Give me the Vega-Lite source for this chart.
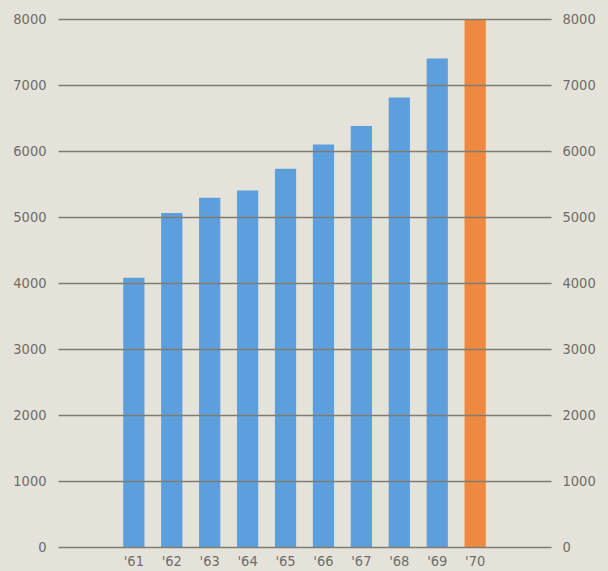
{
  "$schema": "https://vega.github.io/schema/vega-lite/v6.json",
  "autosize": "none",
  "width": 493,
  "height": 528,
  "padding": {"left": 58, "top": 19, "right": 57, "bottom": 24},
  "background": "#e5e3d9",
  "config": {
    "view": {"stroke": null},
    "axis": {
      "labelFont": "DejaVu Sans Condensed, sans-serif",
      "labelFontSize": 14.5,
      "labelColor": "#6e6d69",
      "domain": false,
      "ticks": false,
      "title": null
    }
  },
  "data": {
    "values": [
      {"year": "'61", "value": 4080, "kind": "past"},
      {"year": "'62", "value": 5060, "kind": "past"},
      {"year": "'63", "value": 5290, "kind": "past"},
      {"year": "'64", "value": 5400, "kind": "past"},
      {"year": "'65", "value": 5730, "kind": "past"},
      {"year": "'66", "value": 6100, "kind": "past"},
      {"year": "'67", "value": 6380, "kind": "past"},
      {"year": "'68", "value": 6810, "kind": "past"},
      {"year": "'69", "value": 7400, "kind": "past"},
      {"year": "'70", "value": 8000, "kind": "target"}
    ]
  },
  "encoding": {
    "x": {
      "field": "year",
      "type": "ordinal",
      "sort": null,
      "scale": {
        "domain": ["pre", "'61", "'62", "'63", "'64", "'65", "'66", "'67", "'68", "'69", "'70", "post"],
        "paddingInner": 0.44,
        "paddingOuter": 0.72
      },
      "axis": {
        "values": ["'61", "'62", "'63", "'64", "'65", "'66", "'67", "'68", "'69", "'70"],
        "labelAngle": 0,
        "labelPadding": 7,
        "grid": false
      }
    }
  },
  "layer": [
    {
      "mark": {"type": "bar"},
      "encoding": {
        "y": {
          "field": "value",
          "type": "quantitative",
          "scale": {"domain": [0, 8000], "nice": false},
          "axis": {
            "orient": "left",
            "values": [0, 1000, 2000, 3000, 4000, 5000, 6000, 7000, 8000],
            "format": "d",
            "grid": true,
            "gridColor": "#7f7c74",
            "gridWidth": 1.5,
            "gridOpacity": 1,
            "zindex": 1,
            "labelPadding": 12
          }
        },
        "color": {
          "field": "kind",
          "type": "nominal",
          "scale": {"domain": ["past", "target"], "range": ["#5c9fdc", "#ef8940"]},
          "legend": null
        }
      }
    },
    {
      "mark": {"type": "bar", "opacity": 0},
      "encoding": {
        "y": {
          "field": "value",
          "type": "quantitative",
          "axis": {
            "orient": "right",
            "values": [0, 1000, 2000, 3000, 4000, 5000, 6000, 7000, 8000],
            "format": "d",
            "grid": false,
            "labelPadding": 11
          }
        }
      }
    }
  ],
  "resolve": {"axis": {"y": "independent"}}
}
